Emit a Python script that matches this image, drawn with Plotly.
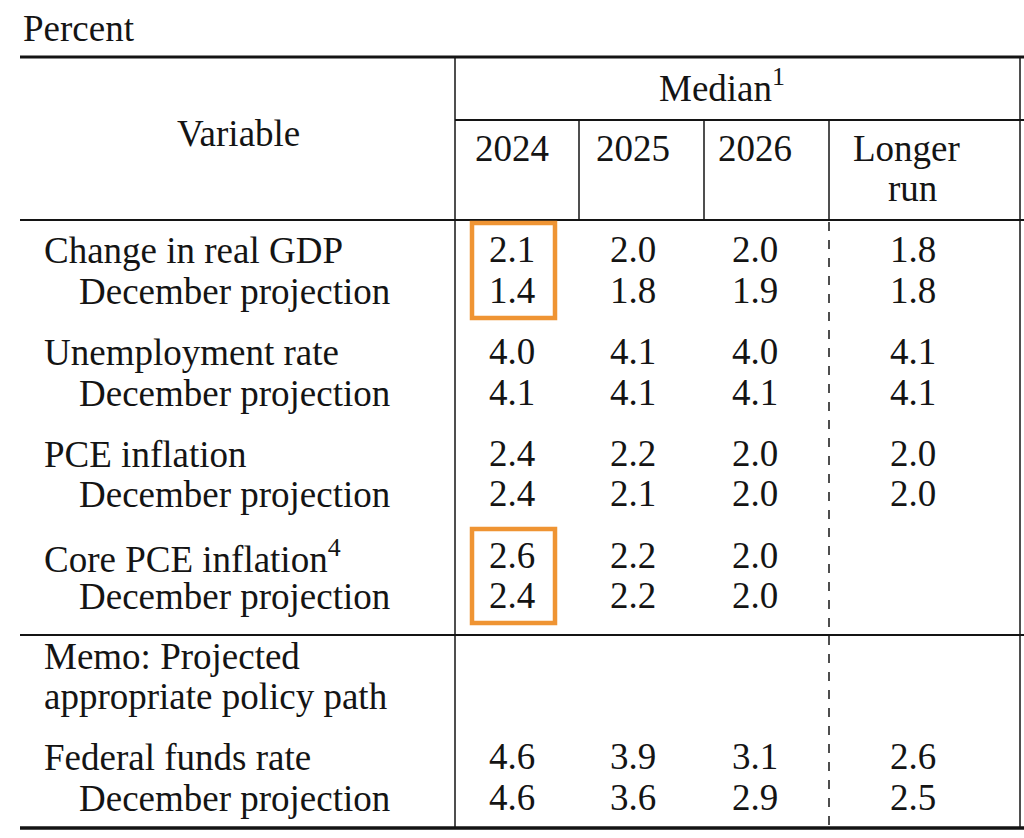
import plotly.graph_objects as go

# ---------------- data ----------------
unit_label = "Percent"
group_header = "Median<sup>1</sup>"
columns = ["2024", "2025", "2026"]
longer_run = ["Longer", "run"]
variables = ["Change in real GDP", "Unemployment rate", "PCE inflation",
             "Core PCE inflation<sup>4</sup>"]
memo_lines = ["Memo: Projected", "appropriate policy path"]
policy_variable = "Federal funds rate"
sub_label = "December projection"

march_median = [
    [2.1, 2.0, 2.0, 1.8],
    [4.0, 4.1, 4.0, 4.1],
    [2.4, 2.2, 2.0, 2.0],
    [2.6, 2.2, 2.0, None],
]
december_median = [
    [1.4, 1.8, 1.9, 1.8],
    [4.1, 4.1, 4.1, 4.1],
    [2.4, 2.1, 2.0, 2.0],
    [2.4, 2.2, 2.0, None],
]
fed_funds_march = [4.6, 3.9, 3.1, 2.6]
fed_funds_december = [4.6, 3.6, 2.9, 2.5]
highlighted_rows = [0, 3]   # boxes drawn around 2024 column

# ---------------- layout geometry ----------------
W, H = 1024, 838
FONT = "Liberation Serif, Times New Roman, serif"
FS = 37
INK = "#141414"
ORANGE = "#EF9433"

col_x = [512, 633, 755, 913]
pair_y = [(250, 291), (352, 393), (454, 494), (556, 596)]
memo_y = (656, 696)
fed_y = (757, 798)
label_x_main = 43
label_x_sub = 78
NUM_DY = 3

fig = go.Figure()

# values as text traces
xs, ys, ts = [], [], []
for r, (ym, yd) in enumerate(pair_y):
    for c in range(4):
        for val, yy in ((march_median[r][c], ym), (december_median[r][c], yd)):
            if val is not None:
                xs.append(col_x[c]); ys.append(yy + NUM_DY); ts.append(f"{val:.1f}")
for c in range(4):
    xs += [col_x[c], col_x[c]]
    ys += [fed_y[0] + NUM_DY, fed_y[1] + NUM_DY]
    ts += [f"{fed_funds_march[c]:.1f}", f"{fed_funds_december[c]:.1f}"]

fig.add_trace(go.Scatter(x=xs, y=ys, text=ts, mode="text",
                         textposition="middle center",
                         textfont=dict(family=FONT, size=FS, color=INK),
                         hoverinfo="skip", showlegend=False))

ann = []
def text(x, y, s, anchor="left", size=FS):
    ann.append(dict(x=x, y=y, xref="x", yref="y", text=s, showarrow=False,
                    xanchor=anchor, yanchor="middle", borderpad=0,
                    font=dict(family=FONT, size=size, color=INK), align="center"))

text(22, 28, unit_label)
text(238, 133, "Variable", "center")
text(722, 85, group_header, "center")
for c in range(3):
    text(col_x[c], 148, columns[c], "center")
text(906, 148, longer_run[0], "center")
text(912, 188, longer_run[1], "center")

for r, (ym, yd) in enumerate(pair_y):
    text(label_x_main, ym, variables[r])
    text(label_x_sub, yd, sub_label)
text(label_x_main, memo_y[0], memo_lines[0])
text(label_x_main, memo_y[1], memo_lines[1])
text(label_x_main, fed_y[0], policy_variable)
text(label_x_sub, fed_y[1], sub_label)

shapes = []
def line(x0, y0, x1, y1, w=1.5, dash="solid", color=INK):
    shapes.append(dict(type="line", xref="x", yref="y", x0=x0, y0=y0, x1=x1, y1=y1,
                       line=dict(color=color, width=w, dash=dash)))

line(20, 57, W, 57, 3)
line(455, 120, W, 120, 2)
line(20, 220, W, 220, 2)
line(20, 635, W, 635, 2)
line(20, 828, W, 828, 3.5)
line(455, 57, 455, 828, 1.5)
line(1020, 57, 1020, 828, 1.5)
for xv in (579, 704, 829):
    line(xv, 120, xv, 220, 1.5)
line(829, 222, 829, 828, 1.5, dash="9px,9px")

# highlight boxes
for r in highlighted_rows:
    ym, yd = pair_y[r]
    shapes.append(dict(type="rect", xref="x", yref="y", x0=472, x1=555,
                       y0=ym - 27, y1=yd + 27,
                       line=dict(color=ORANGE, width=4.5)))

fig.update_layout(
    width=W, height=H, margin=dict(l=0, r=0, t=0, b=0),
    paper_bgcolor="white", plot_bgcolor="white",
    xaxis=dict(range=[0, W], visible=False, fixedrange=True),
    yaxis=dict(range=[H, 0], visible=False, fixedrange=True),
    annotations=ann, shapes=shapes, showlegend=False,
)
fig.write_html("out.html", config={"displayModeBar": False},
               post_script="document.body.style.margin='0';document.body.style.overflow='hidden';")
